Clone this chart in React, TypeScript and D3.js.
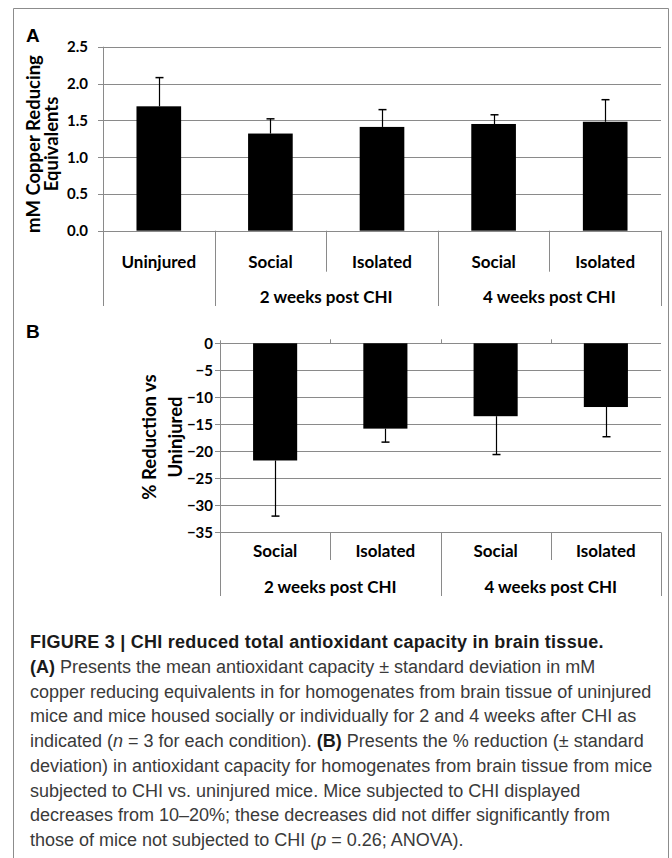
import React from "react";
import * as d3 from "d3";

// ---------- data ----------
const catsA = ["Uninjured", "Social", "Isolated", "Social", "Isolated"];
const meanA = [1.69, 1.32, 1.41, 1.45, 1.48];
const sdA = [0.39, 0.2, 0.235, 0.125, 0.3];
const ticksA = [0, 0.5, 1.0, 1.5, 2.0, 2.5];
const groupLabelsA = ["", "2 weeks post CHI", "4 weeks post CHI"];
const groupSpansA = [[0, 0], [1, 2], [3, 4]];

const catsB = ["Social", "Isolated", "Social", "Isolated"];
const meanB = [-21.7, -15.8, -13.5, -11.8];
const sdB = [10.3, 2.5, 7.1, 5.5];
const ticksB = [0, -5, -10, -15, -20, -25, -30, -35];
const groupLabelsB = ["2 weeks post CHI", "4 weeks post CHI"];
const groupSpansB = [[0, 1], [2, 3]];

type Seg = { t: string; b?: boolean; i?: boolean };
const captionLines: Seg[][] = [
  [{ t: "FIGURE 3 | CHI reduced total antioxidant capacity in brain tissue.", b: true }],
  [{ t: "(A)", b: true }, { t: " Presents the mean antioxidant capacity \u00b1 standard deviation in mM" }],
  [{ t: "copper reducing equivalents in for homogenates from brain tissue of uninjured" }],
  [{ t: "mice and mice housed socially or individually for 2 and 4 weeks after CHI as" }],
  [{ t: "indicated (" }, { t: "n", i: true }, { t: " = 3 for each condition). " }, { t: "(B)", b: true }, { t: " Presents the % reduction (\u00b1 standard" }],
  [{ t: "deviation) in antioxidant capacity for homogenates from brain tissue from mice" }],
  [{ t: "subjected to CHI vs. uninjured mice. Mice subjected to CHI displayed" }],
  [{ t: "decreases from 10\u201320%; these decreases did not differ significantly from" }],
  [{ t: "those of mice not subjected to CHI (" }, { t: "p", i: true }, { t: " = 0.26; ANOVA)." }],
];

const GRID = "#8a8a8a";
const CHART_FONT = "Lato, 'Open Sans', sans-serif";
const CAP_FONT = "'Liberation Sans', Arial, sans-serif";

function boundaryKinds(n: number, spans: number[][]) {
  const kinds: boolean[] = [];
  for (let b = 0; b <= n; b++) {
    kinds.push(spans.some((s) => s[0] === b || s[1] + 1 === b));
  }
  return kinds;
}

type PanelProps = {
  cats: string[];
  mean: number[];
  sd: number[];
  ticks: number[];
  fmt: (v: number) => string;
  groupLabels: string[];
  groupSpans: number[][];
  x0: number;
  x1: number;
  yDomain: [number, number];
  yRange: [number, number];
  catY: number;
  groupY: number;
  shortY: number;
  tallY: number;
  labelX: number;
  titleLines: string[];
  titleX: number[];
  titleY: number;
  zeroTicksUp: boolean;
};

function Panel(p: PanelProps) {
  const x = d3.scaleBand<number>().domain(d3.range(p.cats.length)).range([p.x0, p.x1]).paddingInner(0).paddingOuter(0);
  const y = d3.scaleLinear().domain(p.yDomain).range(p.yRange);
  const bw = x.bandwidth();
  const barW = bw * 0.4;
  const kinds = boundaryKinds(p.cats.length, p.groupSpans);
  const yTop = Math.min(y(p.yDomain[0]), y(p.yDomain[1]));
  const yBot = Math.max(y(p.yDomain[0]), y(p.yDomain[1]));
  const y0 = y(0);
  const axisTop = p.zeroTicksUp ? yTop - 3 : yTop;
  return (
    <g>
      {p.ticks.map((t) => (
        <line key={"g" + t} x1={p.x0 - 5} x2={p.x1} y1={Math.round(y(t)) + 0.5} y2={Math.round(y(t)) + 0.5} stroke={GRID} strokeWidth={1} />
      ))}
      <line x1={p.x0 + 0.5} x2={p.x0 + 0.5} y1={axisTop} y2={p.tallY} stroke={GRID} strokeWidth={1} />
      {kinds.map((tall, b) =>
        b === 0 ? null : (
          <line key={"s" + b} x1={Math.round(p.x0 + b * bw) + 0.5} x2={Math.round(p.x0 + b * bw) + 0.5} y1={yBot} y2={tall ? p.tallY : p.shortY} stroke={GRID} strokeWidth={1} />
        )
      )}
      {p.zeroTicksUp &&
        kinds.map((_, b) =>
          b === 0 || b === p.cats.length ? null : (
            <line key={"z" + b} x1={Math.round(p.x0 + b * bw) + 0.5} x2={Math.round(p.x0 + b * bw) + 0.5} y1={y0 - 4} y2={y0} stroke={GRID} strokeWidth={1} />
          )
        )}
      {p.mean.map((v, i) => {
        const cx = (x(i) as number) + bw / 2;
        return (
          <rect key={"b" + i} x={cx - barW / 2} width={barW} y={Math.min(y(v), y0)} height={Math.abs(y(v) - y0)} fill="#000" />
        );
      })}
      {p.mean.map((v, i) => {
        const cx = Math.round((x(i) as number) + bw / 2) + 0.5;
        const e = v >= 0 ? v + p.sd[i] : v - p.sd[i];
        return (
          <g key={"e" + i}>
            <line x1={cx} x2={cx} y1={y(v)} y2={y(e)} stroke="#000" strokeWidth={1.2} />
            <line x1={cx - 4} x2={cx + 4} y1={y(e)} y2={y(e)} stroke="#000" strokeWidth={1.5} />
          </g>
        );
      })}
      {p.ticks.map((t) => (
        <text key={"t" + t} x={p.labelX} y={y(t)} dy="0.36em" textAnchor="end" fontFamily={CHART_FONT} fontWeight={700} fontSize={15} fill="#000">
          {p.fmt(t)}
        </text>
      ))}
      {p.cats.map((c, i) => (
        <text key={"c" + i} x={(x(i) as number) + bw / 2} y={p.catY} dy="0.35em" textAnchor="middle" fontFamily={CHART_FONT} fontWeight={700} fontSize={17} fill="#000">
          {c}
        </text>
      ))}
      {p.groupLabels.map((g, gi) => {
        const s = p.groupSpans[gi];
        const cx = (p.x0 + s[0] * bw + p.x0 + (s[1] + 1) * bw) / 2;
        return g ? (
          <text key={"gl" + gi} x={cx} y={p.groupY} dy="0.35em" textAnchor="middle" fontFamily={CHART_FONT} fontWeight={700} fontSize={17} fill="#000">
            {g}
          </text>
        ) : null;
      })}
      {p.titleLines.map((l, li) => (
        <text key={"yt" + li} transform={`translate(${p.titleX[li]},${p.titleY}) rotate(-90)`} dy="0.35em" textAnchor="middle" fontFamily={CHART_FONT} fontWeight={700} fontSize={18.5} fill="#000">
          {l}
        </text>
      ))}
    </g>
  );
}

export default function App() {
  const capX = 30;
  const capY0 = 648;
  const capStep = 24.75;
  return (
    <svg width={672} height={858} viewBox="0 0 672 858" style={{ position: "absolute", left: 0, top: 0, background: "#fff" }}>
      <rect x={0} y={0} width={672} height={858} fill="#fff" />
      <path d="M13.5,870 L13.5,8.5 L668.5,8.5 L668.5,870" fill="none" stroke="#8c8c8c" strokeWidth={1} />

      <text x={26} y={42} fontFamily="'Liberation Sans', Arial, sans-serif" fontWeight={700} fontSize={19} fill="#000">A</text>
      <Panel
        cats={catsA}
        mean={meanA}
        sd={sdA}
        ticks={ticksA}
        fmt={d3.format(".1f")}
        groupLabels={groupLabelsA}
        groupSpans={groupSpansA}
        x0={103}
        x1={661}
        yDomain={[0, 2.5]}
        yRange={[230.7, 46.7]}
        catY={261.7}
        groupY={296.7}
        shortY={271.7}
        tallY={306}
        labelX={88}
        titleLines={["mM Copper Reducing", "Equivalents"]}
        titleX={[34, 52]}
        titleY={144}
        zeroTicksUp={false}
      />

      <text x={26} y={338} fontFamily="'Liberation Sans', Arial, sans-serif" fontWeight={700} fontSize={19} fill="#000">B</text>
      <Panel
        cats={catsB}
        mean={meanB}
        sd={sdB}
        ticks={ticksB}
        fmt={d3.format("d")}
        groupLabels={groupLabelsB}
        groupSpans={groupSpansB}
        x0={220}
        x1={661}
        yDomain={[-35, 0]}
        yRange={[532.3, 343.3]}
        catY={550.7}
        groupY={586.7}
        shortY={560}
        tallY={596}
        labelX={213}
        titleLines={["% Reduction vs", "Uninjured"]}
        titleX={[150, 176]}
        titleY={437}
        zeroTicksUp={true}
      />

      {captionLines.map((line, li) => (
        <text key={"cap" + li} x={capX} y={capY0 + li * capStep} fontFamily={CAP_FONT} fontSize={18} letterSpacing={li === 0 ? 0.25 : 0} fill={li === 0 ? "#1a1a1a" : "#3a3a3a"}>
          {line.map((s, si) => (
            <tspan key={si} fontWeight={s.b ? 700 : 400} fontStyle={s.i ? "italic" : "normal"} fill={s.b ? "#1a1a1a" : undefined}>
              {s.t}
            </tspan>
          ))}
        </text>
      ))}
    </svg>
  );
}
